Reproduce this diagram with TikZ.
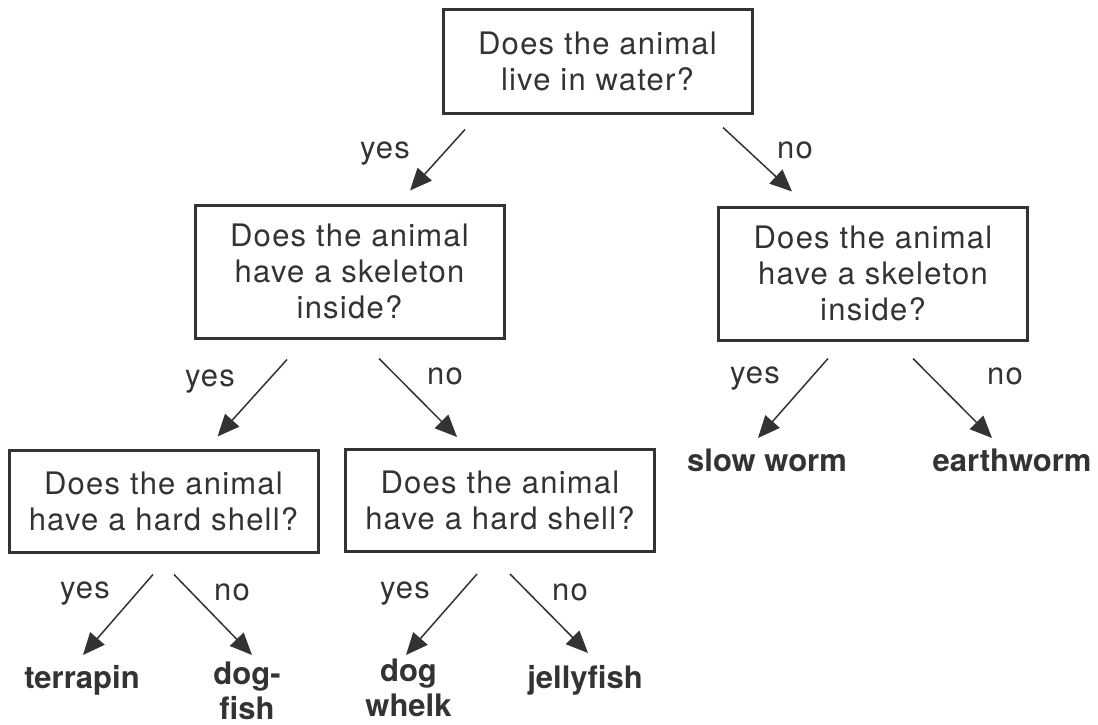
\documentclass[tikz,border=0pt]{standalone}
\usepackage{fontspec}
\setmainfont{TeX Gyre Heros}
\newfontfamily\qfont{TeX Gyre Heros}[LetterSpace=4]
\usetikzlibrary{arrows.meta}
\definecolor{ink}{HTML}{333333}

\begin{document}
\begin{tikzpicture}[
	x=0.5pt, y=-0.5pt,
	qbox/.style={
		draw=ink, line width=1.5pt, rectangle,
		minimum width=154.5pt, text=ink,
		font=\qfont\fontsize{15.5}{18}\selectfont, align=center, inner sep=0pt
	},
	ans/.style={font=\qfont\fontsize{15.5}{18}\selectfont, text=ink, inner sep=0pt},
	leaf/.style={font=\bfseries\fontsize{15.5}{17.5}\selectfont, text=ink, align=center, inner sep=0pt},
	edge/.style={-{Triangle[length=11pt, width=9.5pt]}, line width=0.75pt, draw=ink},
	]
	
	\useasboundingbox (0,0) rectangle (1098,724);
	
	% question boxes
	\node[qbox, minimum height=52pt]   (water)     at (597.5, 61)  {Does the animal\\live in water?};
	\node[qbox, minimum height=66.5pt] (skelwet)   at (349.5, 271.5) {Does the animal\\have a skeleton\\inside?};
	\node[qbox, minimum height=66.5pt] (skeldry)   at (873, 273.5) {Does the animal\\have a skeleton\\inside?};
	\node[qbox, minimum height=51pt]   (shellbone) at (163.5, 501) {Does the animal\\have a hard shell?};
	\node[qbox, minimum height=51pt]   (shellsoft) at (500, 500.5) {Does the animal\\have a hard shell?};
	
	% answers
	\node[leaf] (slowworm)  at (767, 460)   {slow worm};
	\node[leaf] (earthworm) at (1012, 460)  {earthworm};
	\node[leaf] (terrapin)  at (82, 680)    {terrapin};
	\node[leaf] (dogfish)   at (247, 691) {dog-\\fish};
	\node[leaf] (whelk)     at (408.5, 688) {dog\\whelk};
	\node[leaf] (jelly)     at (585, 680)   {jellyfish};
	
	% yes / no labels
	\node[ans] (y1) at (385, 154)  {yes};
	\node[ans] (n1) at (795, 150)  {no};
	\node[ans] (y2) at (210, 382)  {yes};
	\node[ans] (n2) at (445, 376)  {no};
	\node[ans] (y3) at (755, 379)  {yes};
	\node[ans] (n3) at (1005, 376) {no};
	\node[ans] (y4) at (85, 594)   {yes};
	\node[ans] (n4) at (232, 592)  {no};
	\node[ans] (y5) at (405, 594)  {yes};
	\node[ans] (n5) at (570, 592)  {no};
	
	\draw[edge] ([shift={(-132.5,15)}]water.south) -- ([shift={(60.5,-13)}]skelwet.north);
	\draw[edge] ([shift={(125.5,13)}]water.south)  -- ([shift={(-81,-14)}]skeldry.north);
	
	\draw[edge] ([shift={(-62.5,20)}]skelwet.south) -- ([shift={(54,-12)}]shellbone.north);
	\draw[edge] ([shift={(29.5,19)}]skelwet.south)  -- ([shift={(-43,-11)}]shellsoft.north);
	
	\draw[edge] ([shift={(-45,17)}]skeldry.south) -- ([shift={(-9,-22)}]slowworm.center);
	\draw[edge] ([shift={(40,17)}]skeldry.south)  -- ([shift={(-20,-22)}]earthworm.center);
	
	\draw[edge] ([shift={(-10.5,21)}]shellbone.south) -- ([shift={(1,-25)}]terrapin.center);
	\draw[edge] ([shift={(10.5,21)}]shellbone.south)  -- ([shift={(5,-36)}]dogfish.center);
	
	\draw[edge] ([shift={(-23,21)}]shellsoft.south) -- ([shift={(-2.5,-33)}]whelk.center);
	\draw[edge] ([shift={(10,21)}]shellsoft.south)  -- ([shift={(3,-27)}]jelly.center);
	
\end{tikzpicture}
\end{document}
